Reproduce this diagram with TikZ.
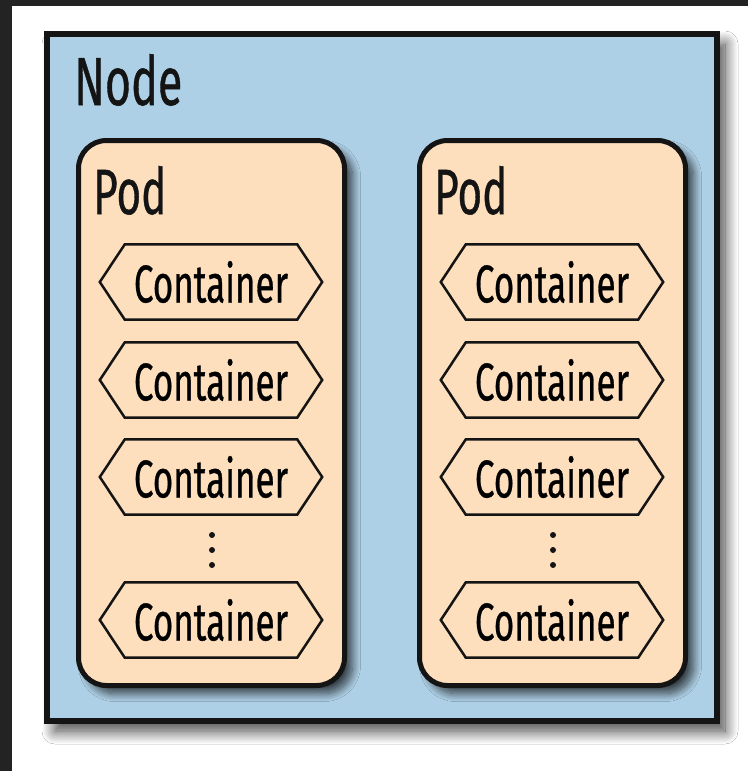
\documentclass[tikz,border=0pt]{standalone}
\usepackage{fontspec}
\setmainfont{Fira Sans}[FakeBold=0.8]
\usetikzlibrary{shadows.blur,calc}
\definecolor{nodeblue}{RGB}{174,208,230}
\definecolor{podpeach}{RGB}{253,223,190}
\definecolor{ink}{RGB}{20,20,20}
\definecolor{frame}{RGB}{35,35,35}
\tikzset{
  nodebox/.style={draw=ink, line width=6pt, fill=nodeblue,
    blur shadow={shadow xshift=8pt, shadow yshift=-10pt, shadow blur radius=13pt, shadow blur steps=16, shadow opacity=75}},
  podbox/.style={draw=ink, line width=5pt, fill=podpeach, rounded corners=28pt,
    blur shadow={shadow xshift=8pt, shadow yshift=-8pt, shadow blur radius=8pt, shadow blur steps=12, shadow opacity=70}},
  ctr/.style={minimum width=222pt, minimum height=75pt, inner sep=0pt, font=\fontsize{53}{60}\selectfont},
  ctrline/.style={draw=ink, line width=2.5pt, line join=miter},
  title/.style={anchor=base west, inner sep=0pt, text=ink},
  dot/.style={circle, fill=ink, inner sep=0pt, minimum size=6pt}
}
\newcommand{\cond}[1]{\scalebox{0.66}[1]{#1}}
\begin{document}
\begin{tikzpicture}[x=1pt,y=-1pt]
\useasboundingbox (0,0) rectangle (748,771);
\fill[white] (0,0) rectangle (748,771);
\fill[frame] (0,0) rectangle (12,771);
\fill[frame] (0,0) rectangle (748,6);
% node box
\path[nodebox] (47,34) rectangle (717,721);
\node[title, font=\fontsize{68}{70}\selectfont] (nodelabel) at (74,105) {\cond{Node}};
% pods
\foreach \px/\nm in {0/A,341/B}{
  \path[podbox] (78.5+\px,140.5) rectangle (344.5+\px,685.5);
  \node[title, font=\fontsize{64}{66}\selectfont] (pod\nm) at (93+\px,214) {\cond{Pod}};
  \foreach \cy/\k in {282/1,380/2,477/3,620/4}{
    \node[ctr] (c\nm\k) at (211+\px,\cy) {\cond{Container}};
    \draw[ctrline] (c\nm\k.west) -- ([xshift=25pt]c\nm\k.north west) -- ([xshift=-25pt]c\nm\k.north east)
      -- (c\nm\k.east) -- ([xshift=-25pt]c\nm\k.south east) -- ([xshift=25pt]c\nm\k.south west) -- cycle;
  }
  \foreach \dy/\k in {535/1,550/2,565/3}{
    \node[dot] (d\nm\k) at (212+\px,\dy) {};
  }
}
\end{tikzpicture}
\end{document}
